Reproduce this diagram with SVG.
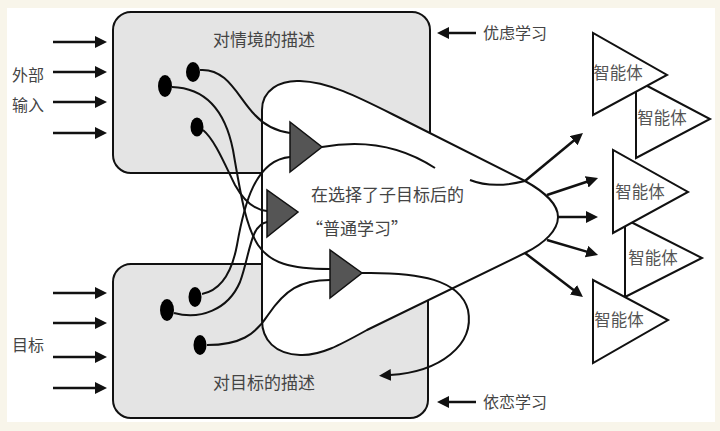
<svg xmlns="http://www.w3.org/2000/svg" width="720" height="431" viewBox="0 0 720 431">
<defs>
<style>
.box{fill:#e4e4e4;stroke:#111;stroke-width:2}
.heart{fill:#fff;stroke:#111;stroke-width:2}
.ln{fill:none;stroke:#111;stroke-width:2}
.arr{fill:none;stroke:#111;stroke-width:2.5}
.dot{fill:#000}
.gtri{fill:#555;stroke:#111;stroke-width:1.5}
.agent{fill:#fff;stroke:#111;stroke-width:2}
.t{font-family:"Noto Sans CJK SC","Noto Sans",sans-serif;fill:#444;font-size:17px}
.ta{font-family:"Noto Sans CJK SC","Noto Sans",sans-serif;fill:#555;font-size:16.5px;text-anchor:middle}
</style>
<marker id="ah" viewBox="0 0 12 12" refX="1" refY="6" markerWidth="12" markerHeight="12" markerUnits="userSpaceOnUse" orient="auto">
<path d="M0,0 L12,6 L0,12 z" fill="#111"/>
</marker>
</defs>
<rect x="0" y="0" width="720" height="431" fill="#f8f5ea"/>
<rect x="7" y="8" width="708" height="414" fill="#fff"/>

<g id="box-situation">
<rect class="box" x="113" y="12" width="317" height="161" rx="18"/>
</g>
<g id="box-goal">
<rect class="box" x="113" y="264" width="315" height="154" rx="18"/>
</g>
<g id="learning-region">
<path class="heart" d="M262,110 C262,90 280,80 300,81 C330,82 360,98 400,118 L525,181 C545,192 558,205 558,217 C558,230 545,243 525,253 L367,330 C340,345 320,356 300,355 C275,354 262,340 262,320 Z"/>
</g>

<g id="connectors">
<line class="arr" x1="53" y1="42" x2="96" y2="42" marker-end="url(#ah)"/>
<line class="arr" x1="53" y1="72" x2="96" y2="72" marker-end="url(#ah)"/>
<line class="arr" x1="53" y1="102" x2="96" y2="102" marker-end="url(#ah)"/>
<line class="arr" x1="53" y1="133" x2="96" y2="133" marker-end="url(#ah)"/>
<line class="arr" x1="53" y1="293" x2="96" y2="293" marker-end="url(#ah)"/>
<line class="arr" x1="53" y1="323" x2="96" y2="323" marker-end="url(#ah)"/>
<line class="arr" x1="53" y1="357" x2="96" y2="357" marker-end="url(#ah)"/>
<line class="arr" x1="53" y1="388" x2="96" y2="388" marker-end="url(#ah)"/>
<line class="arr" x1="476" y1="33" x2="448" y2="33" marker-end="url(#ah)"/>
<line class="arr" x1="476" y1="402" x2="448" y2="402" marker-end="url(#ah)"/>

<path class="ln" d="M200,70 C228,68 238,98 255,115 C265,126 276,131 290,133"/>
<path class="ln" d="M172,87 C205,88 225,110 233,150 C240,190 245,225 258,245 C270,263 290,269 330,269"/>
<path class="ln" d="M203,130 C215,140 225,165 235,185 C245,203 255,210 267,211"/>
<path class="ln" d="M202,294 C222,290 232,272 237,245 C244,205 255,160 290,157"/>
<path class="ln" d="M174,313 C200,320 228,310 240,282 C250,255 250,225 267,222"/>
<path class="ln" d="M207,345 C240,345 255,335 268,315 C285,290 300,280 330,280"/>
<path class="ln" d="M362,273 C420,272 460,280 468,310 C475,345 440,372 390,375" marker-end="url(#ah)"/>
<path class="ln" d="M322,147 C360,140 400,145 435,168"/>
<path class="ln" d="M470,180 C485,186 505,186 525,181"/>

<line class="arr" x1="525" y1="181" x2="574.5" y2="140" marker-end="url(#ah)"/>
<line class="arr" x1="547" y1="195" x2="587.6" y2="181.5" marker-end="url(#ah)"/>
<line class="arr" x1="557" y1="217" x2="587" y2="217" marker-end="url(#ah)"/>
<line class="arr" x1="547" y1="240" x2="587.5" y2="251.9" marker-end="url(#ah)"/>
<line class="arr" x1="525" y1="253" x2="574.2" y2="290.4" marker-end="url(#ah)"/>
</g>

<g id="unit-1"><polygon class="gtri" points="290,122 290,172 322,147"/></g>
<g id="unit-2"><polygon class="gtri" points="267,190 267,237 298,212"/></g>
<g id="unit-3"><polygon class="gtri" points="330,250 330,298 362,273"/></g>

<g id="dot-1"><ellipse class="dot" cx="193" cy="72" rx="7" ry="10"/></g>
<g id="dot-2"><ellipse class="dot" cx="165" cy="86" rx="7" ry="11"/></g>
<g id="dot-3"><ellipse class="dot" cx="197" cy="127" rx="6.5" ry="9.5"/></g>
<g id="dot-4"><ellipse class="dot" cx="195" cy="297" rx="6.5" ry="10"/></g>
<g id="dot-5"><ellipse class="dot" cx="167" cy="310" rx="7" ry="11"/></g>
<g id="dot-6"><ellipse class="dot" cx="200" cy="345" rx="6.5" ry="10"/></g>

<g id="agent-2"><polygon class="agent" points="636,80 636,158 710,119"/><text class="ta" x="662" y="124">智能体</text></g>
<g id="agent-4"><polygon class="agent" points="625,219 625,297 702,258"/><text class="ta" x="653" y="264">智能体</text></g>
<g id="agent-1"><polygon class="agent" points="593,33 593,115 667,75"/><text class="ta" x="618" y="79">智能体</text></g>
<g id="agent-3"><polygon class="agent" points="613,150 613,233 688,192"/><text class="ta" x="640" y="198">智能体</text></g>
<g id="agent-5"><polygon class="agent" points="593,280 593,363 668,320"/><text class="ta" x="619" y="326">智能体</text></g>

<g id="labels">
<text class="t" x="264" y="46" text-anchor="middle">对情境的描述</text>
<text class="t" x="264" y="389" text-anchor="middle">对目标的描述</text>
<text class="t" x="12" y="81" style="font-size:16px">外部</text>
<text class="t" x="12" y="111" style="font-size:16px">输入</text>
<text class="t" x="12" y="351" style="font-size:16px">目标</text>
<text class="t" x="483" y="39" style="font-size:16px">优虑学习</text>
<text class="t" x="483" y="408" style="font-size:16px">依恋学习</text>
<text class="t" x="311" y="201">在选择了子目标后的</text>
<text class="t" x="306" y="235">“普通学习”</text>
</g>
</svg>
